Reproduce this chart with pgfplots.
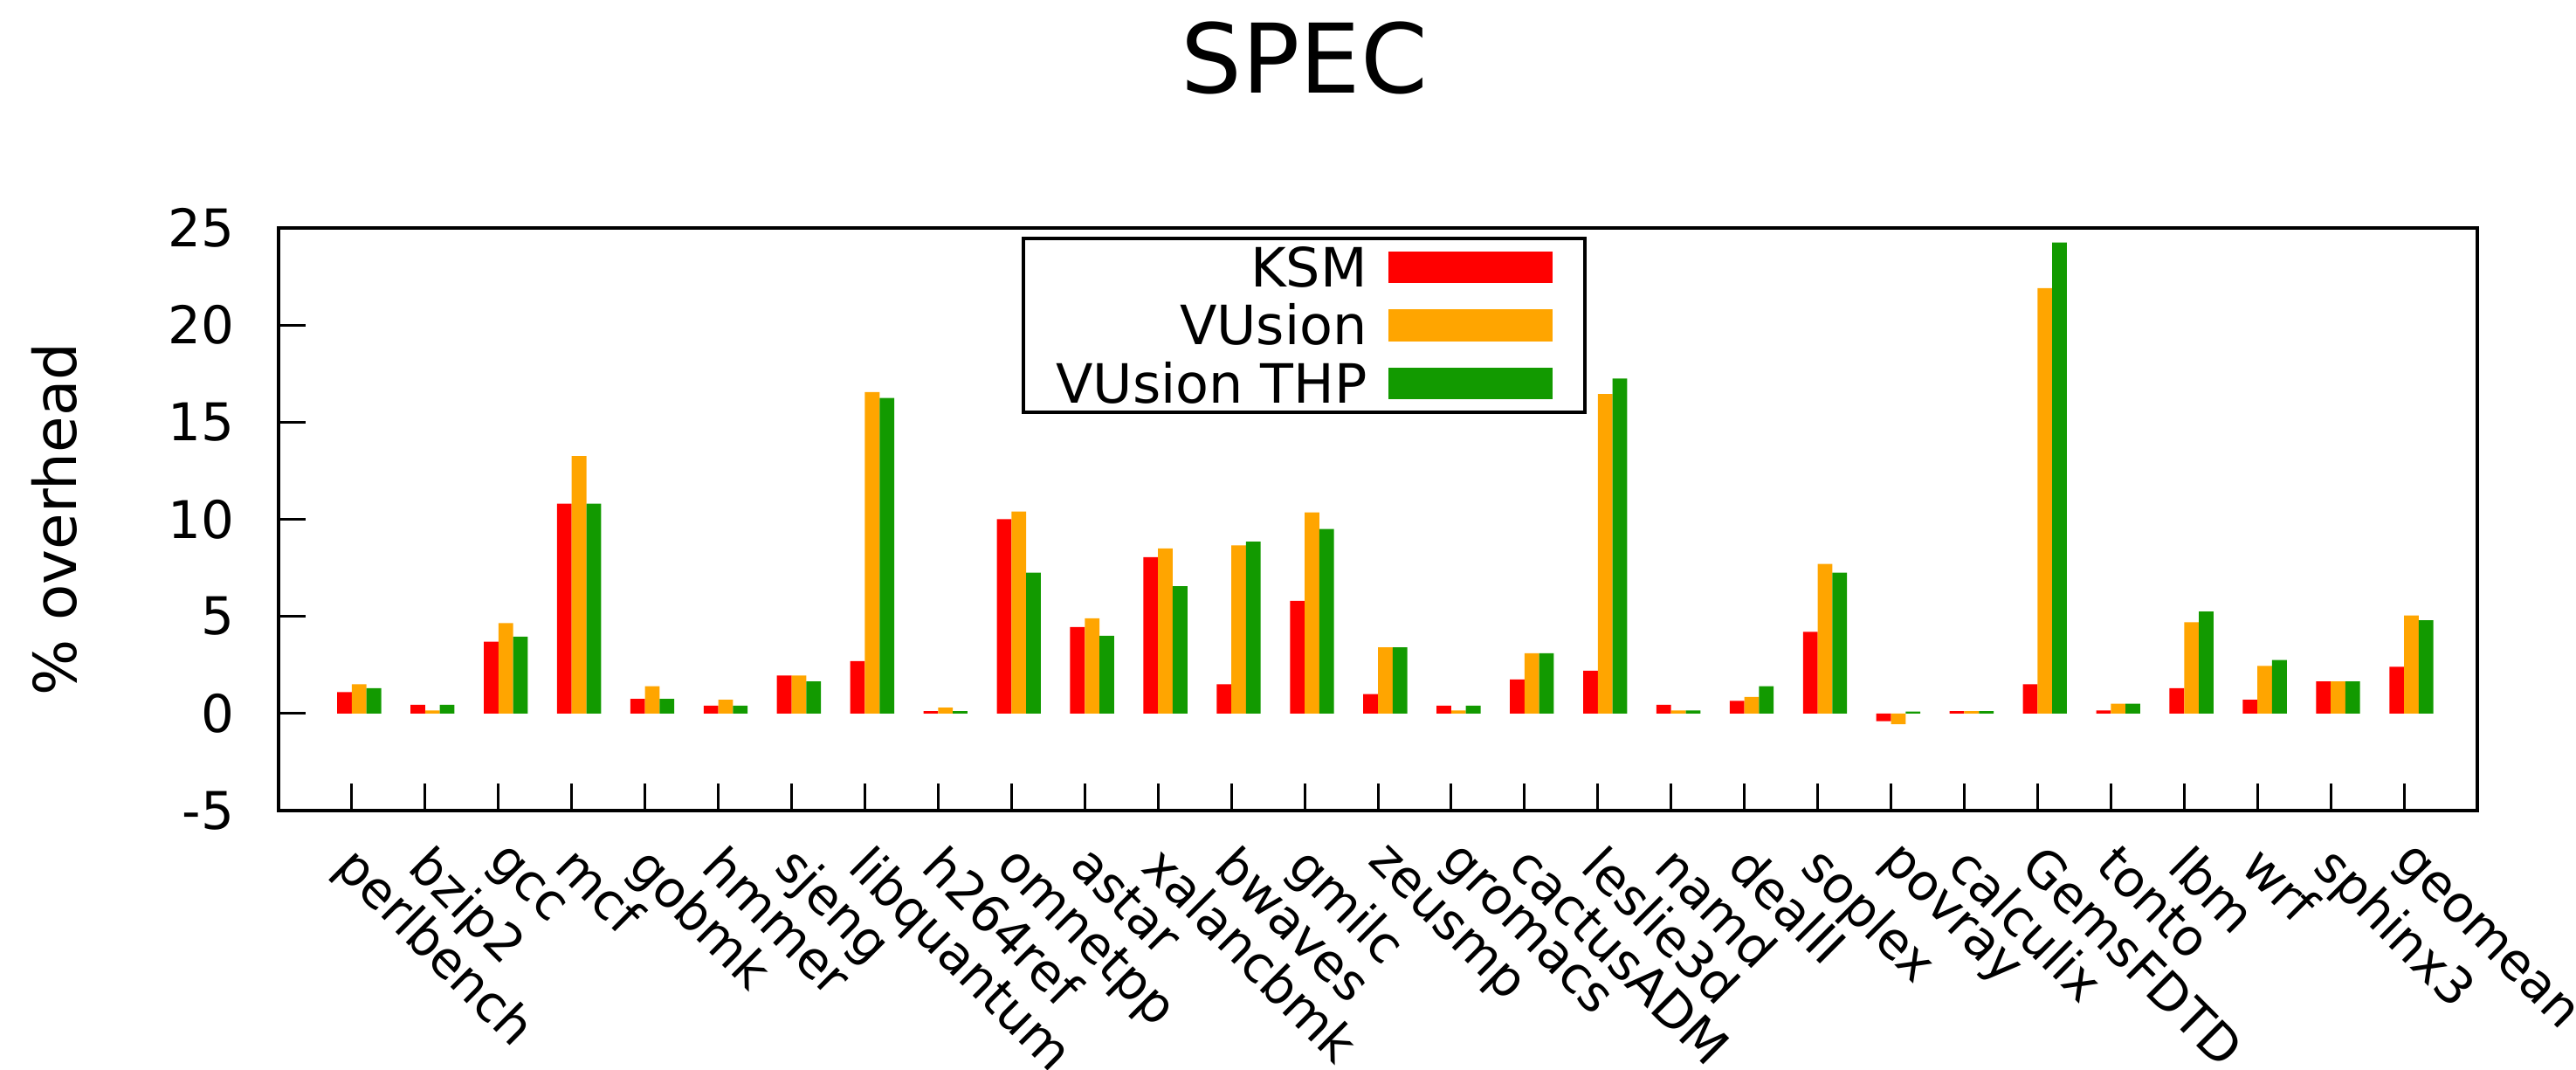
\documentclass[border=0pt]{standalone}
\usepackage{fontspec}
\setmainfont{DejaVu Sans}
\usepackage{pgfplots}
\usepackage{pgfplotstable}
\pgfplotsset{compat=1.18}
\definecolor{cksm}{RGB}{255,0,0}
\definecolor{cvus}{RGB}{255,165,0}
\definecolor{cthp}{RGB}{18,154,0}
\pgfplotstableread{
x ksm vusion thp
0 1.10 1.50 1.30
1 0.45 0.15 0.45
2 3.70 4.65 3.95
3 10.80 13.25 10.80
4 0.75 1.40 0.75
5 0.40 0.70 0.40
6 1.95 1.95 1.65
7 2.70 16.55 16.25
8 0.12 0.30 0.12
9 10.00 10.40 7.25
10 4.45 4.90 4.00
11 8.05 8.50 6.55
12 1.50 8.65 8.85
13 5.80 10.35 9.50
14 1.00 3.40 3.40
15 0.40 0.15 0.40
16 1.75 3.10 3.10
17 2.20 16.45 17.25
18 0.45 0.15 0.15
19 0.65 0.85 1.40
20 4.20 7.70 7.25
21 -0.40 -0.55 0.10
22 0.12 0.12 0.12
23 1.50 21.90 24.25
24 0.15 0.50 0.50
25 1.30 4.70 5.25
26 0.70 2.45 2.75
27 1.65 1.65 1.65
28 2.40 5.05 4.80
}\datatable
\begin{document}
\begin{tikzpicture}
\useasboundingbox (-63.8pt,-59.4pt) rectangle (526.2pt,185.6pt);
\begin{axis}[
  at={(0pt,0pt)}, anchor=south west,
  scale only axis, width=503.6pt, height=133.4pt,
  xmin=-1, xmax=29, ymin=-5, ymax=25,
  ytick={-5,0,5,10,15,20,25},
  xtick={0,...,28},
  xticklabels={perlbench,bzip2,gcc,mcf,gobmk,hmmer,sjeng,libquantum,h264ref,omnetpp,astar,xalancbmk,bwaves,gmilc,zeusmp,gromacs,cactusADM,leslie3d,namd,dealII,soplex,povray,calculix,GemsFDTD,tonto,lbm,wrf,sphinx3,geomean},
  tick align=inside, xtick pos=bottom, ytick pos=left,
  major tick length=6.2pt,
  axis line style={line width=0.9pt},
  every tick/.style={black, line width=0.6pt},
  tick label style={font=\fontsize{11.9}{14}\selectfont},
  /pgf/number format/assume math mode=true,
  yticklabel style={inner sep=0pt, xshift=-10pt},
  xticklabel style={xshift=2pt, yshift=-7pt, rotate=-45, anchor=north west, inner sep=0pt, font=\fontsize{11.6}{14}\selectfont},
  ylabel={\% overhead},
  ylabel style={at={(axis description cs:-0.1019,0.5)}, anchor=center, font=\fontsize{13.5}{16}\selectfont},
  title={SPEC},
  title style={at={(axis description cs:0.4666,1)}, anchor=base, yshift=24.8pt, font=\fontsize{22}{26}\selectfont},
  legend plot pos=right,
  legend cell align=right,
  legend image code/.code={\fill[#1, draw=none] (0pt,-3.65pt) rectangle (37.6pt,3.65pt);},
  legend style={
    at={(axis description cs:0.338,0.985)}, anchor=north west,
    draw=black, line width=0.8pt, inner xsep=7.5pt, inner ysep=2.2pt,
    font=\fontsize{12.4}{14}\selectfont,
    row sep=4.4pt, column sep=4.8pt,
    nodes={inner sep=0pt, text height=8.9pt, text depth=0pt},
  },
]
\addplot[ybar, fill=cksm, draw=none, bar width=0.2, bar shift=-0.1] table[x=x, y=ksm] {\datatable};
\addlegendentry{KSM}
\addplot[ybar, fill=cvus, draw=none, bar width=0.2, bar shift=0.1] table[x=x, y=vusion] {\datatable};
\addlegendentry{VUsion}
\addplot[ybar, fill=cthp, draw=none, bar width=0.2, bar shift=0.3] table[x=x, y=thp] {\datatable};
\addlegendentry{VUsion THP}
\end{axis}
\end{tikzpicture}
\end{document}
